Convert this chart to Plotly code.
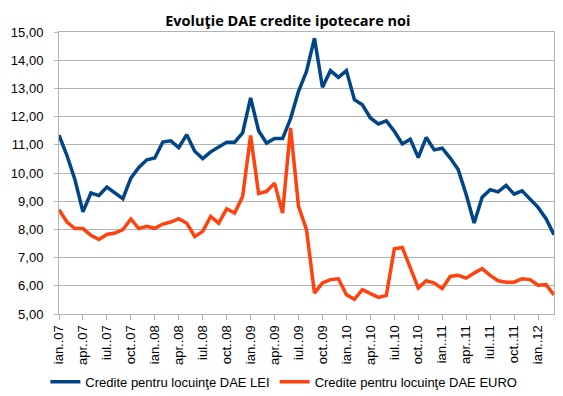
import plotly.graph_objects as go

luni = ["ian", "feb", "mar", "apr", "mai", "iun", "iul", "aug", "sep", "oct", "noi", "dec"]
months = [f"{luni[m]}..{y:02d}" for y in range(7, 13) for m in range(12)][:63]

dae_lei = [11.34, 10.62, 9.76, 8.62, 9.29, 9.20, 9.50, 9.29, 9.09, 9.82, 10.20, 10.47,
           10.53, 11.10, 11.14, 10.90, 11.36, 10.77, 10.51, 10.75, 10.93, 11.09, 11.09, 11.42,
           12.66, 11.50, 11.06, 11.22, 11.22, 11.93, 12.90, 13.60, 14.78, 13.04, 13.63, 13.39,
           13.63, 12.60, 12.42, 11.95, 11.74, 11.85, 11.48, 11.03, 11.20, 10.55, 11.26, 10.82,
           10.88, 10.53, 10.12, 9.24, 8.23, 9.14, 9.41, 9.33, 9.56, 9.25, 9.37, 9.09,
           8.78, 8.38, 7.81]

dae_euro = [8.70, 8.26, 8.03, 8.03, 7.79, 7.64, 7.82, 7.87, 7.99, 8.37, 8.03, 8.11,
            8.04, 8.19, 8.26, 8.38, 8.22, 7.75, 7.93, 8.46, 8.22, 8.73, 8.58, 9.17,
            11.33, 9.27, 9.35, 9.64, 8.58, 11.60, 8.82, 7.99, 5.74, 6.10, 6.22, 6.25,
            5.68, 5.52, 5.86, 5.74, 5.59, 5.66, 7.31, 7.36, 6.63, 5.92, 6.18, 6.10,
            5.90, 6.33, 6.37, 6.27, 6.45, 6.61, 6.37, 6.18, 6.13, 6.13, 6.25, 6.22,
            6.02, 6.04, 5.68]

tick_labels = months[::3]
y_ticks = [5, 6, 7, 8, 9, 10, 11, 12, 13, 14, 15]

fig = go.Figure()
fig.add_trace(go.Scatter(x=months, y=dae_lei, mode="lines",
                         name="Credite pentru locuinţe DAE LEI",
                         line=dict(color="#004586", width=3.5)))
fig.add_trace(go.Scatter(x=months, y=dae_euro, mode="lines",
                         name="Credite pentru locuinţe DAE EURO",
                         line=dict(color="#ff420e", width=3.5)))

grid = "#b3b3b3"
fig.update_layout(
    width=563, height=396,
    margin=dict(l=51, r=17, t=24, b=90, autoexpand=False),
    paper_bgcolor="white", plot_bgcolor="white",
    separators=",.",
    font=dict(family="Liberation Sans, Arial, sans-serif", size=13, color="#000000"),
    title=dict(text="<b>Evoluţie DAE credite ipotecare noi</b>",
               x=0.497, xanchor="center", y=0.967, yanchor="middle",
               font=dict(family="Open Sans, sans-serif", size=14.5, color="#000000")),
    showlegend=True,
    legend=dict(orientation="h", xref="container", x=0.49, xanchor="center",
                yref="container", y=0.056, yanchor="middle",
                font=dict(size=13), itemwidth=30, traceorder="normal"),
    xaxis=dict(type="category", range=[0, 62], tickmode="array",
               tickvals=tick_labels, ticktext=tick_labels, tickangle=-90,
               showgrid=False, showline=True, linecolor=grid, linewidth=1,
               mirror=True, ticks="outside", ticklen=5, tickcolor=grid,
               automargin=False, tickfont=dict(size=13)),
    yaxis=dict(range=[5, 15], tickvals=y_ticks, tickformat=".2f",
               showgrid=True, gridcolor=grid, gridwidth=1,
               showline=True, linecolor=grid, linewidth=1, mirror=True,
               ticks="outside", ticklen=4, tickcolor=grid, zeroline=False,
               automargin=False, ticklabelstandoff=8, tickfont=dict(size=13)),
)

fig.write_html("out.html")
